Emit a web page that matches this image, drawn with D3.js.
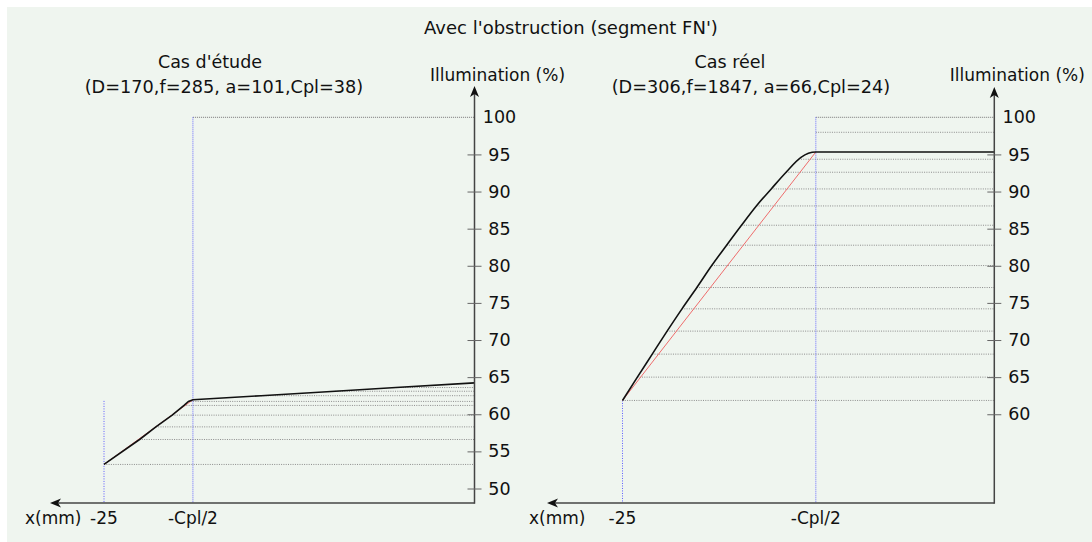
<!DOCTYPE html>
<html>
<head>
<meta charset="utf-8">
<script src="https://cdn.jsdelivr.net/npm/d3@7"></script>
<style>
  body { margin: 0; background: #fff; }
  text { font-family: "DejaVu Sans", sans-serif; fill: #111; }
</style>
</head>
<body>
<script>
// values (x in mm, y in % illumination)
let yTicks = [50, 55, 60, 65, 70, 75, 80, 85, 90, 95, 100];
let yTicksReal = [60, 65, 70, 75, 80, 85, 90, 95, 100];

let studyCurve = [[-25, 53.24], [-22.6, 56.6], [-21.5, 58.3], [-20.4, 59.88], [-19.6, 61.19],
  [-19.3, 61.73], [-19, 61.95], [-14.4, 62.5], [-9.4, 63.1], [-5.3, 63.6], [0, 64.23]];
let studyLevels = [[-25, 53.24], [-22.6, 56.6], [-21.5, 58.3], [-20.4, 59.88], [-19.6, 61.19],
  [-19.3, 61.73], [-14.4, 62.5], [-9.4, 63.1], [-5.3, 63.6]];
let studyRed = [[-25, 53.24], [-19, 61.95]];

let realCurve = [[-25, 61.86], [-24, 65.0], [-23, 68.1], [-22, 71.2], [-21, 74.2], [-20, 77.07],
  [-19, 80.03], [-18, 82.77], [-17, 85.46], [-16, 88.06], [-15, 90.35], [-14, 92.6],
  [-13, 94.6], [-12.5, 95.15], [-12, 95.33], [0, 95.33]];
let realLevels = [[-25, 61.86], [-24, 65.0], [-23, 68.1], [-22, 71.2], [-21, 74.2], [-20, 77.07],
  [-19, 80.03], [-18, 82.77], [-17, 85.46], [-16, 88.06], [-15, 90.35], [-14, 92.6],
  [-13, 94.35], [-12, 97.98]];
let realRed = [[-25, 61.86], [-12, 95.33]];

let width = 1092, height = 542;

let svg = d3.select('body').append('svg')
  .attr('width', width)
  .attr('height', height);

svg.append('rect')
  .attr('x', 7).attr('y', 7)
  .attr('width', width - 7).attr('height', height - 7)
  .attr('fill', '#eff5ef');

svg.append('text')
  .attr('x', 571).attr('y', 34)
  .attr('text-anchor', 'middle')
  .style('font-size', '18px')
  .text("Avec l'obstruction (segment FN')");

let y = d3.scaleLinear().domain([50, 100]).range([488.5, 117.3]);
let axisY = 503;

function drawPanel(p) {
  let x = d3.scaleLinear().domain([-25, 0]).range([p.x25, p.axisX]);
  let g = svg.append('g');

  // horizontal guide lines from the sample points to the axis
  g.selectAll('.lev')
    .data(p.levels)
    .enter().append('line')
      .attr('x1', d => x(d[0]))
      .attr('x2', x(0))
      .attr('y1', d => y(d[1]))
      .attr('y2', d => y(d[1]))
      .attr('stroke', '#8c8c8c')
      .attr('stroke-width', 1)
      .attr('stroke-dasharray', '1,1.3');

  // 100% line
  g.append('line')
    .attr('x1', x(p.cpl)).attr('x2', x(0))
    .attr('y1', y(100)).attr('y2', y(100))
    .attr('stroke', '#777')
    .attr('stroke-dasharray', '1,1');

  // blue verticals
  g.append('line')
    .attr('x1', x(-25)).attr('x2', x(-25))
    .attr('y1', y(p.startTop)).attr('y2', axisY)
    .attr('stroke', '#5a5aff')
    .attr('stroke-dasharray', '1,1.5');
  g.append('line')
    .attr('x1', x(p.cpl)).attr('x2', x(p.cpl))
    .attr('y1', y(100)).attr('y2', axisY)
    .attr('stroke', '#6a6aff')
    .attr('stroke-dasharray', '1,1');

  let line = d3.line().x(d => x(d[0])).y(d => y(d[1])).curve(p.curveType);

  g.append('path')
    .attr('d', d3.line().x(d => x(d[0])).y(d => y(d[1]))(p.red))
    .attr('fill', 'none')
    .attr('stroke', '#ee6c6c')
    .attr('stroke-width', 1);

  g.append('path')
    .attr('d', line(p.curve))
    .attr('fill', 'none')
    .attr('stroke', '#111')
    .attr('stroke-width', 1.6);

  // axes
  g.append('line')
    .attr('x1', x(0)).attr('x2', p.xTip + 4)
    .attr('y1', axisY).attr('y2', axisY)
    .attr('stroke', '#444').attr('stroke-width', 1.5);
  g.append('line')
    .attr('x1', x(0)).attr('x2', x(0))
    .attr('y1', axisY + 0.75).attr('y2', p.yTip + 4)
    .attr('stroke', '#444').attr('stroke-width', 1.5);

  g.append('path')
    .attr('d', `M${p.xTip},${axisY} l11,-4.5 l-3,4.5 l3,4.5 z`)
    .attr('fill', '#111');
  g.append('path')
    .attr('d', `M${x(0)},${p.yTip} l-4.5,11 l4.5,-3 l4.5,3 z`)
    .attr('fill', '#111');

  let ax = g.append('g')
    .attr('transform', `translate(${x(0)},0)`)
    .call(d3.axisRight(y).tickValues(p.ticks).tickSize(7).tickFormat(d => d));
  ax.select('.domain').remove();
  ax.attr('font-size', null).attr('font-family', null);
  ax.selectAll('.tick line')
    .attr('x1', -7).attr('x2', 7)
    .attr('stroke', '#666')
    .filter(d => d === 100).remove();
  ax.selectAll('.tick text')
    .attr('x', 25)
    .attr('text-anchor', 'middle')
    .style('font-size', '17.5px');

  // x labels
  g.append('text').attr('x', x(-25)).attr('y', 524)
    .attr('text-anchor', 'middle').style('font-size', '17px').text('-25');
  g.append('text').attr('x', x(p.cpl)).attr('y', 524)
    .attr('text-anchor', 'middle').style('font-size', '17px').text('-Cpl/2');
  g.append('text').attr('x', p.xLabel).attr('y', 524)
    .style('font-size', '17px').text('x(mm)');

  g.append('text').attr('x', x(0) + 23).attr('y', 81)
    .attr('text-anchor', 'middle').style('font-size', '17px').text('Illumination (%)');

  g.append('text').attr('x', p.titleX).attr('y', 68)
    .attr('text-anchor', 'middle').style('font-size', '17.5px').text(p.title);
  g.append('text').attr('x', p.subX).attr('y', 93)
    .attr('text-anchor', 'middle').style('font-size', '17.7px').text(p.sub);
}

drawPanel({
  x25: 104, axisX: 474.5, cpl: -19, startTop: 61.8, curveType: d3.curveLinear,
  curve: studyCurve, levels: studyLevels, red: studyRed, ticks: yTicks,
  xTip: 50, yTip: 86, xLabel: 25,
  title: "Cas d'étude", titleX: 210,
  sub: '(D=170,f=285, a=101,Cpl=38)', subX: 224
});

drawPanel({
  x25: 622.5, axisX: 994.3, cpl: -12, startTop: 61.86, curveType: d3.curveMonotoneX,
  curve: realCurve, levels: realLevels, red: realRed, ticks: yTicksReal,
  xTip: 547, yTip: 87, xLabel: 529,
  title: 'Cas réel', titleX: 730,
  sub: '(D=306,f=1847, a=66,Cpl=24)', subX: 751
});
</script>
</body>
</html>
